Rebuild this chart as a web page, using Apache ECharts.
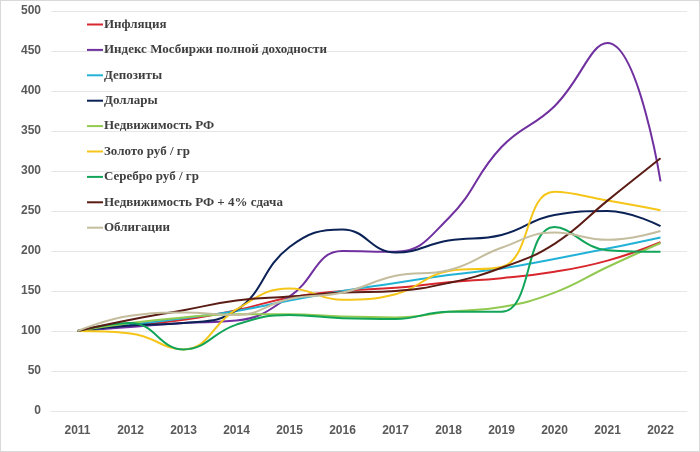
<!DOCTYPE html>
<html><head><meta charset="utf-8">
<script src="https://cdn.jsdelivr.net/npm/echarts@6/dist/echarts.min.js"></script>
<style>html,body{margin:0;padding:0;background:#fff}#c{width:700px;height:452px;box-sizing:border-box;border:1px solid #d9d9d9}</style>
</head><body><div id="c"></div>
<script>
const years = ['2011','2012','2013','2014','2015','2016','2017','2018','2019','2020','2021','2022'];
const inflation = [100,107,114,126,142,150,154,161,166,174,188,211];
const moex = [100,105,110,113,143,200,199,241,330,381,460,287];
const deposits = [100,108,116,125,138,150,160,170,178,190,203,217];
const dollars = [100,107,110,126,205,227,198,213,220,245,250,231];
const realty = [100,110,117,121,121,118,117,124,130,148,180,210];
const gold = [100,97,77,127,153,139,146,175,180,274,263,251];
const silver = [100,110,77,108,120,116,115,124,124,230,201,199];
const realty4 = [100,114,126,138,143,148,150,160,179,209,263,316];
const bonds = [100,119,123,120,140,148,169,176,204,223,214,225];
const names = ['Инфляция','Индекс Мосбиржи полной доходности','Депозиты','Доллары','Недвижимость РФ','Золото руб / гр','Серебро руб / гр','Недвижимость РФ + 4% сдача','Облигации'];
const colors = ['#d9272e','#7030a0','#22b2d6','#0b2256','#92c950','#f5c518','#12a55a','#5a1c14','#c4bd9e'];
const datas = [inflation,moex,deposits,dollars,realty,gold,silver,realty4,bonds];
const chart = echarts.init(document.getElementById('c'));
chart.setOption({
  animation:false,
  color:colors,
  grid:{left:50,right:12,top:10,bottom:40},
  legend:{orient:'vertical',left:81,top:12,itemGap:12.4,itemWidth:16,itemHeight:2,icon:'rect',
    data:names,
    textStyle:{fontFamily:'Liberation Serif',fontWeight:'bold',fontSize:13,color:'#3f3f3f',padding:[0,0,0,-4]}},
  xAxis:{type:'category',data:years,boundaryGap:true,
    axisLine:{lineStyle:{color:'#e6e6e6'}},axisTick:{show:false},
    axisLabel:{color:'#595959',fontFamily:'Liberation Sans',fontWeight:'bold',fontSize:12,margin:14}},
  yAxis:{type:'value',min:0,max:500,interval:50,
    axisLine:{show:false},axisTick:{show:false},
    splitLine:{lineStyle:{color:'#e6e6e6'}},
    axisLabel:{color:'#595959',fontFamily:'Liberation Sans',fontWeight:'bold',fontSize:12,margin:10}},
  series:names.map((n,i)=>({name:n,type:'line',data:datas[i],smooth:0.45,showSymbol:false,symbol:'none',
    lineStyle:{width:2,color:colors[i]}}))
});
</script></body></html>
